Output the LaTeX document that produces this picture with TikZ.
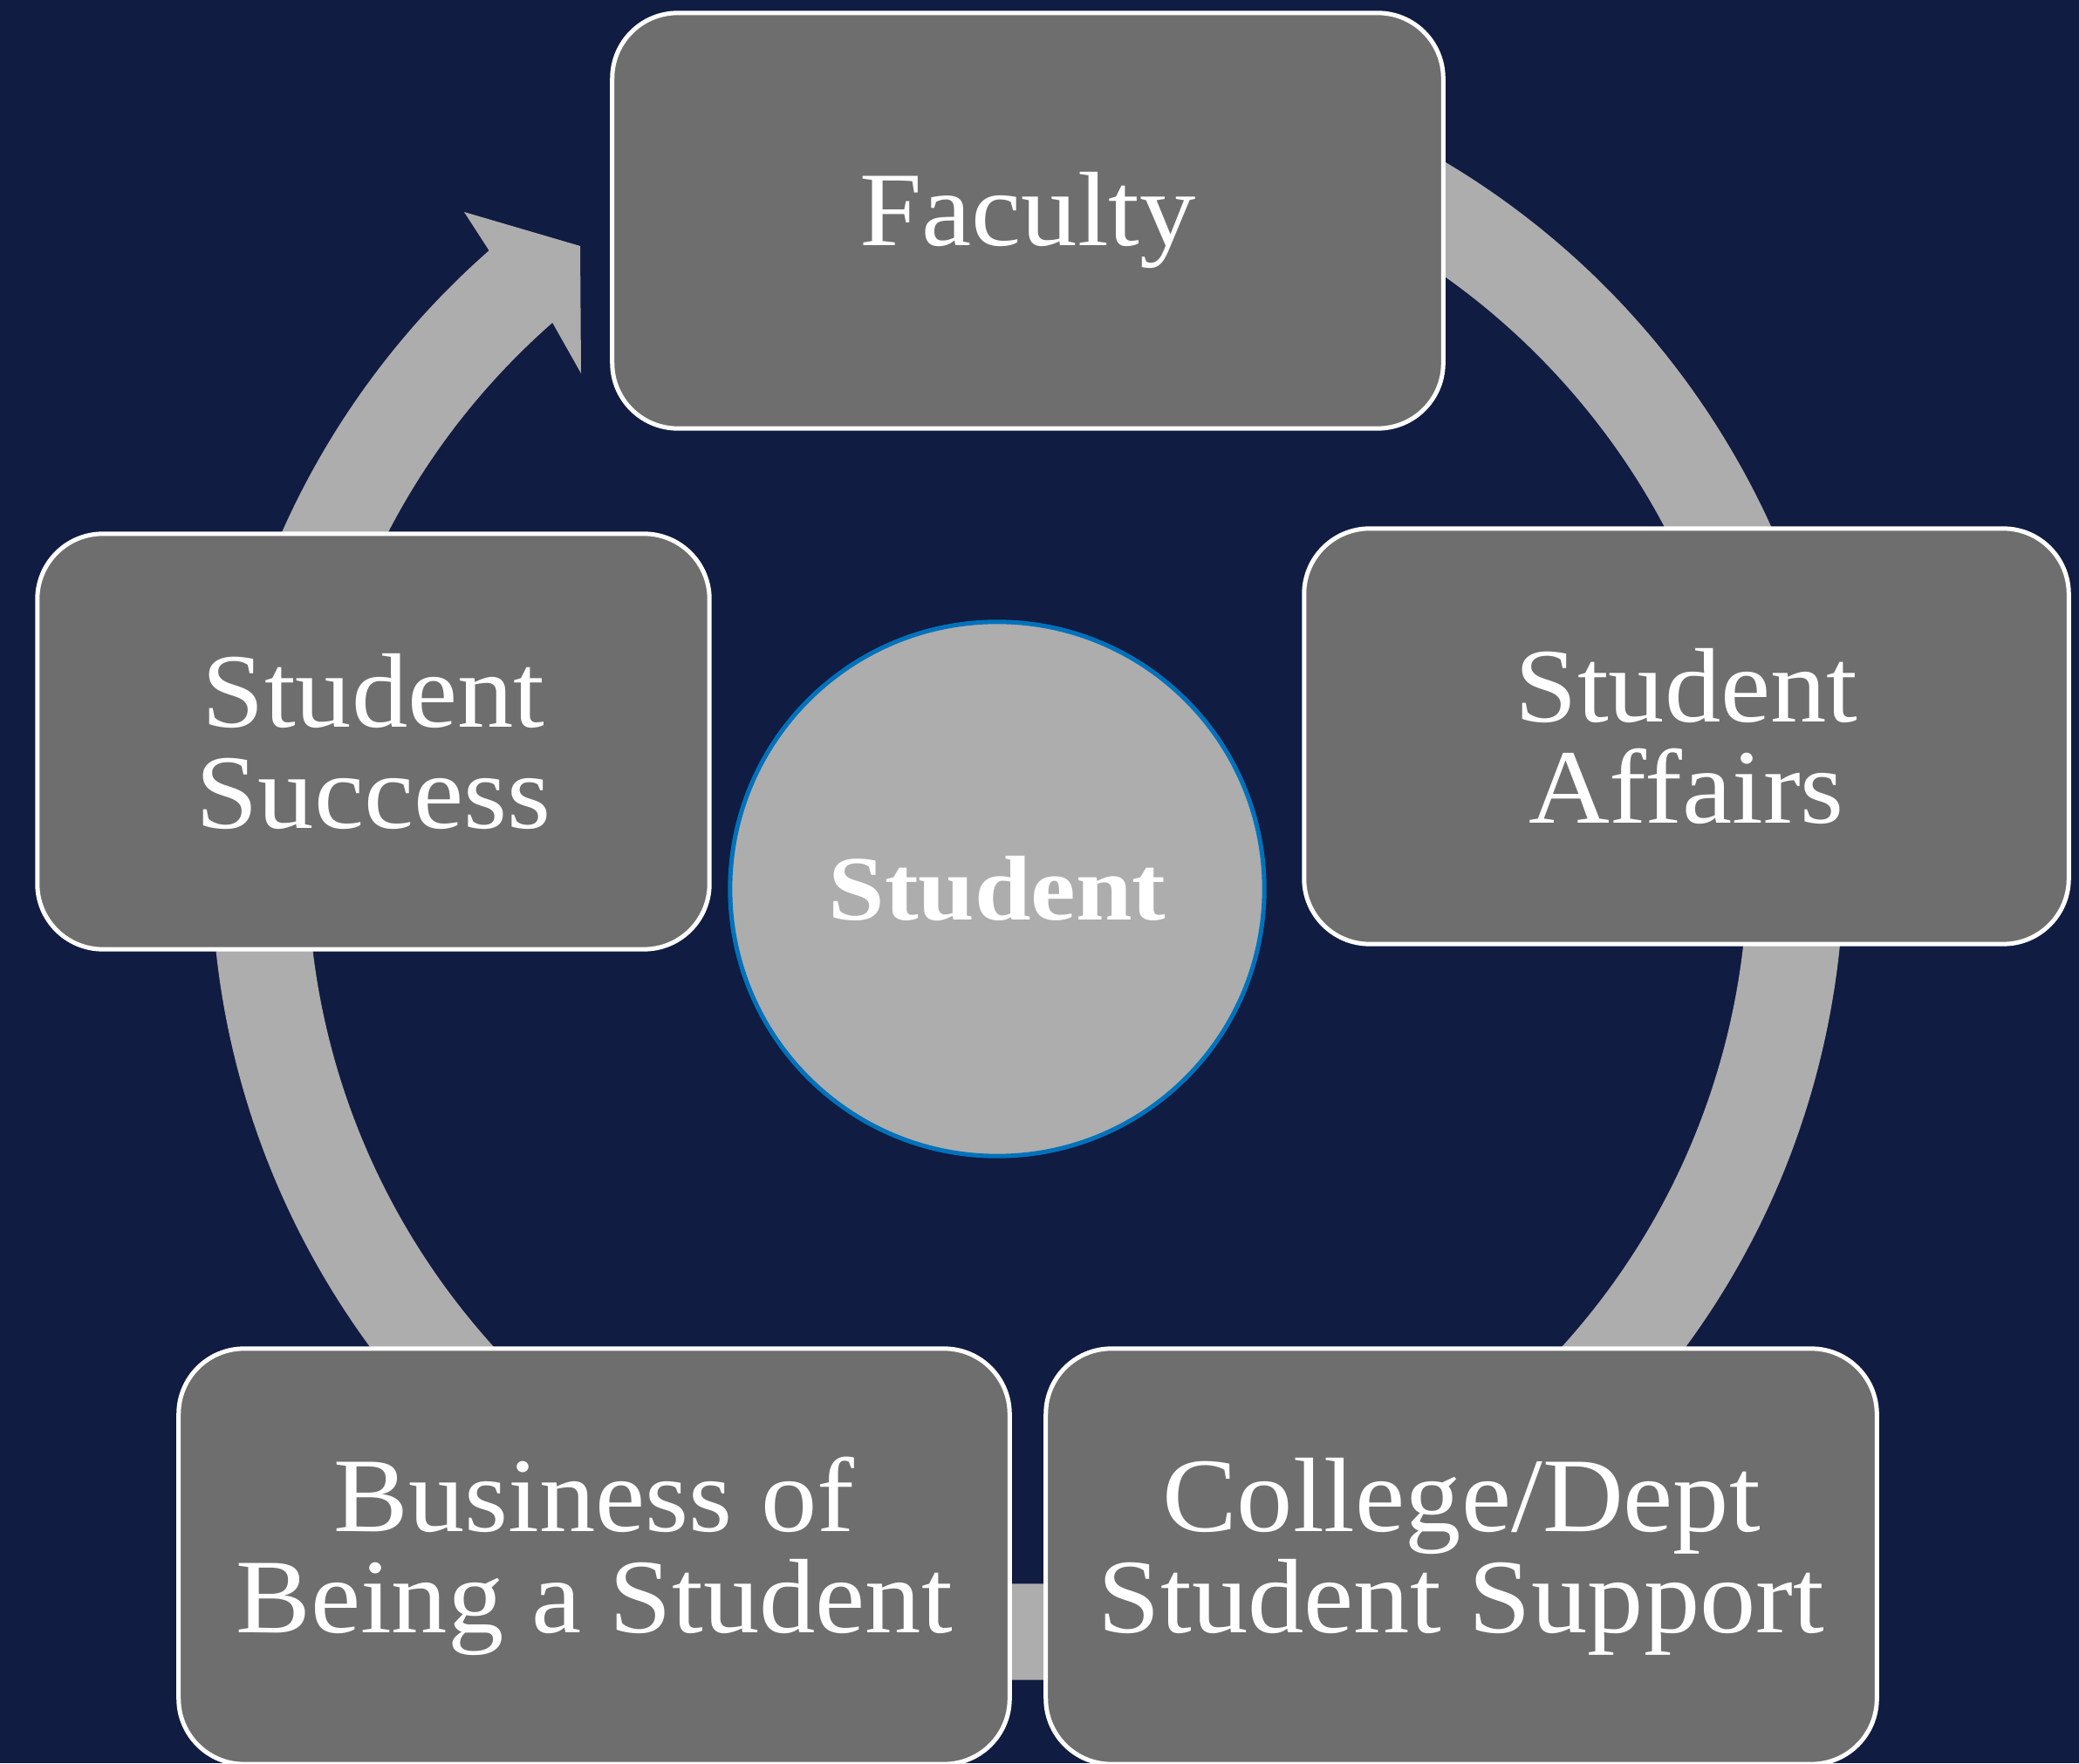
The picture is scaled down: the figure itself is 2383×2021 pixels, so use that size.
\documentclass[tikz,border=0pt]{standalone}
\usepackage{fontspec}
\usepackage{xcolor}
\setmainfont{Liberation Serif}[FakeStretch=1.06]
\newfontfamily\hubfont{Liberation Serif}[FakeStretch=1.1]
\definecolor{slatenavy}{RGB}{17,28,66}
\definecolor{boxgrey}{RGB}{110,110,110}
\definecolor{ringgrey}{RGB}{173,173,173}
\definecolor{hubblue}{RGB}{0,114,188}

\begin{document}
\begin{tikzpicture}[x=0.01cm, y=0.01cm,
    unit/.style={rectangle, rounded corners=0.75cm, draw=white, line width=0.05cm, fill=boxgrey,
        text=white, align=center, minimum height=4.76cm, font=\fontsize{34.5}{33}\selectfont},
    hub/.style={circle, draw=hubblue, line width=0.05cm, fill=ringgrey, minimum size=6.12cm,
        text=white, font=\hubfont\bfseries\fontsize{30}{30}\selectfont}]
\useasboundingbox (0,0) rectangle (2383,2021);
\fill[slatenavy] (0,0) rectangle (2383,2021);

% cycle arrow behind the boxes
\coordinate (ringc) at (1178,1031);
\fill[ringgrey] ([shift={(80:9.35cm)}]ringc) arc[start angle=80, end angle=-228.7, radius=9.35cm]
    -- (532,1778) -- (665,1739) -- (666,1593)
    -- ([shift={(-228.7:8.25cm)}]ringc) arc[start angle=-228.7, end angle=80, radius=8.25cm] -- cycle;

\node[hub] (student) at (1143,1002) {Student};

\node[unit, minimum width=9.52cm] (faculty) at (1178,1768) {Faculty};
\node[unit, minimum width=8.76cm] (affairs) at (1933,1177) {Student\\Affairs};
\node[unit, minimum width=9.52cm] (college) at (1675,237) {College/Dept\\Student Support};
\node[unit, minimum width=9.52cm] (business) at (681,237) {Business of\\Being a Student};
\node[unit, minimum width=7.70cm] (success) at (428,1171) {Student\\Success};
\end{tikzpicture}
\end{document}
